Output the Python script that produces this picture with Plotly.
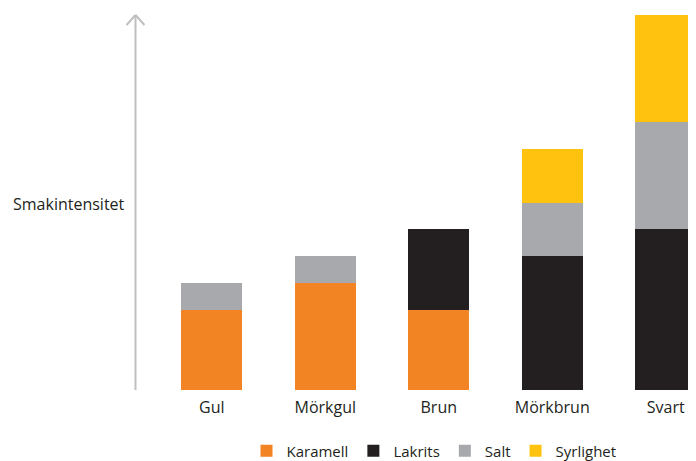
import plotly.graph_objects as go

categories = ["Gul", "Mörkgul", "Brun", "Mörkbrun", "Svart"]
karamell = [3, 4, 3, 0, 0]
lakrits = [0, 0, 3, 5, 6]
salt = [1, 1, 0, 2, 4]
syrlighet = [0, 0, 0, 2, 4]

series = [
    ("Karamell", karamell, "#F38423"),
    ("Lakrits", lakrits, "#231F20"),
    ("Salt", salt, "#A7A9AC"),
    ("Syrlighet", syrlighet, "#FFC30F"),
]

# page body has an 8px margin; positions below are in figure pixels
OFF = 8
W, H = 696, 461
L, R, T, B = 155 - OFF, 0, 15 - OFF, 461 - (390 - OFF)
pw = W - L - R
ph = H - T - B
slot = 113.5
xmax = -0.5 + pw / slot

fig = go.Figure()
for name, vals, col in series:
    fig.add_trace(go.Bar(
        x=categories, y=vals, name=name, marker_color=col,
        marker_line_width=0, width=0.54,
    ))

def px_x(x):
    return (x - OFF - L) / pw

def px_y(y):
    return (H - B - (y - OFF)) / ph

axc = "#BFBFBF"
shapes = [
    dict(type="line", xref="paper", yref="paper", x0=px_x(135.5), x1=px_x(135.5),
         y0=px_y(390), y1=px_y(15), line=dict(color=axc, width=2)),
    dict(type="line", xref="paper", yref="paper", x0=px_x(126.5), x1=px_x(135.5),
         y0=px_y(25), y1=px_y(15), line=dict(color=axc, width=2)),
    dict(type="line", xref="paper", yref="paper", x0=px_x(144.5), x1=px_x(135.5),
         y0=px_y(25), y1=px_y(15), line=dict(color=axc, width=2)),
]

fig.update_layout(
    width=W, height=H,
    margin=dict(l=L, r=R, t=T, b=B),
    barmode="stack",
    plot_bgcolor="white", paper_bgcolor="white",
    font=dict(family="Open Sans", size=16, color="#231F20"),
    xaxis=dict(range=[-0.5, xmax], showgrid=False, zeroline=False, showline=False,
               ticks="outside", ticklen=3, tickcolor="white",
               tickfont=dict(size=16, color="#231F20")),
    yaxis=dict(range=[0, 14], showgrid=False, zeroline=False, showline=False,
               showticklabels=False, ticks=""),
    legend=dict(orientation="h", x=px_x(434), xanchor="center", y=px_y(451), yanchor="middle",
                font=dict(size=15, color="#231F20"), traceorder="normal",
                itemwidth=30),
    shapes=shapes,
    annotations=[dict(text="Smakintensitet", xref="paper", yref="paper",
                      x=px_x(11), y=px_y(204), xanchor="left", yanchor="middle",
                      showarrow=False, font=dict(size=16, color="#231F20"))],
    showlegend=True,
)

fig.write_html("out.html")
